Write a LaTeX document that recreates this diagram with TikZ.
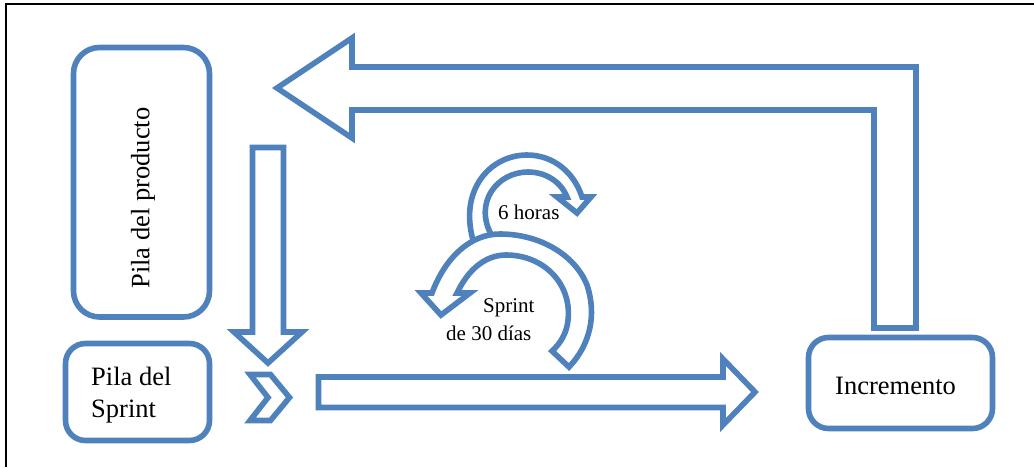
\documentclass[tikz,border=0pt]{standalone}
\usepackage{fontspec}
\setmainfont{Liberation Serif}
\definecolor{blk}{HTML}{4F81BD}
\tikzset{
  x=1pt,y=-1pt,
  outline/.style={draw=blk,line width=5.6pt,line join=miter,miter limit=10},
  box/.style={draw=blk,line width=5.6pt,rounded corners=#1},
  big/.style={font=\fontsize{26.5pt}{32pt}\selectfont,text=black,inner sep=0pt},
  small/.style={font=\fontsize{21pt}{26pt}\selectfont,text=black,inner sep=0pt},
}
\begin{document}
\begin{tikzpicture}
\useasboundingbox (0,0) rectangle (1034,467);
\fill[white] (0,0) rectangle (1034,467);
\coordinate (fa) at (6,467);
\coordinate (fb) at (1034,4);
\draw[black,line width=1.6pt] (fa) |- (fb);
% boxes
\draw[box=26pt] (73.5,47.5) rectangle (209.5,317);
\draw[box=20pt] (65.5,343.5) rectangle (209.5,440.5);
\draw[box=20pt] (808.5,337.5) rectangle (992.5,428.5);
\node[big,rotate=90] (producto) at (143,198) {Pila del producto};
\node[big,anchor=base west] (pila1) at (91,385) {Pila del};
\node[big,anchor=base west] (pila2) at (91,417) {Sprint};
\node[big,anchor=base west] (incr) at (835,394) {Incremento};
% big return arrow
\draw[outline] (277,88) -- (352,38) -- (352,67) -- (916,67) -- (916,328) -- (874,328) -- (874,110) -- (352,110) -- (352,138) -- cycle;
% down arrow
\draw[outline] (252.5,147.5) -- (283.5,147.5) -- (283.5,332) -- (302,332) -- (268,363) -- (234,332) -- (252.5,332) -- cycle;
% chevron
\draw[outline] (250,374.5) -- (270.5,374.5) -- (289.5,397.5) -- (270.5,420.5) -- (250,420.5) -- (268,397.5) -- cycle;
% right arrow
\draw[outline] (318.5,377) -- (723,377) -- (723,359) -- (755,392) -- (723,425) -- (723,407.5) -- (318.5,407.5) -- cycle;
% small curved arrow
\draw[outline] (473,240) .. controls (459,190) and (490,155) .. (527,155)
  .. controls (553,155) and (574,172) .. (582,197) -- (591,197) -- (577,213) -- (557,197) -- (567,197)
  .. controls (561,182) and (546,172) .. (528,172)
  .. controls (497,172) and (473,203) .. (492,236);
% large curved arrow
\draw[outline,fill=white] (569,367) .. controls (590,345) and (597,315) .. (587,285)
  .. controls (575,255) and (540,234) .. (500,234)
  .. controls (470,234) and (445,258) .. (432,293) -- (421,293) -- (441,315) -- (470,293) -- (457,293)
  .. controls (468,270) and (485,255) .. (506,255)
  .. controls (545,255) and (572,285) .. (568,320)
  .. controls (567,332) and (561,343) .. (552,351) -- cycle;
% labels
\node[small,anchor=base west] (h6) at (498,219) {6 horas};
\node[small,anchor=base west] (sp) at (483,312) {Sprint};
\node[small,anchor=base west] (d30) at (446,340) {de 30 días};
\end{tikzpicture}
\end{document}
